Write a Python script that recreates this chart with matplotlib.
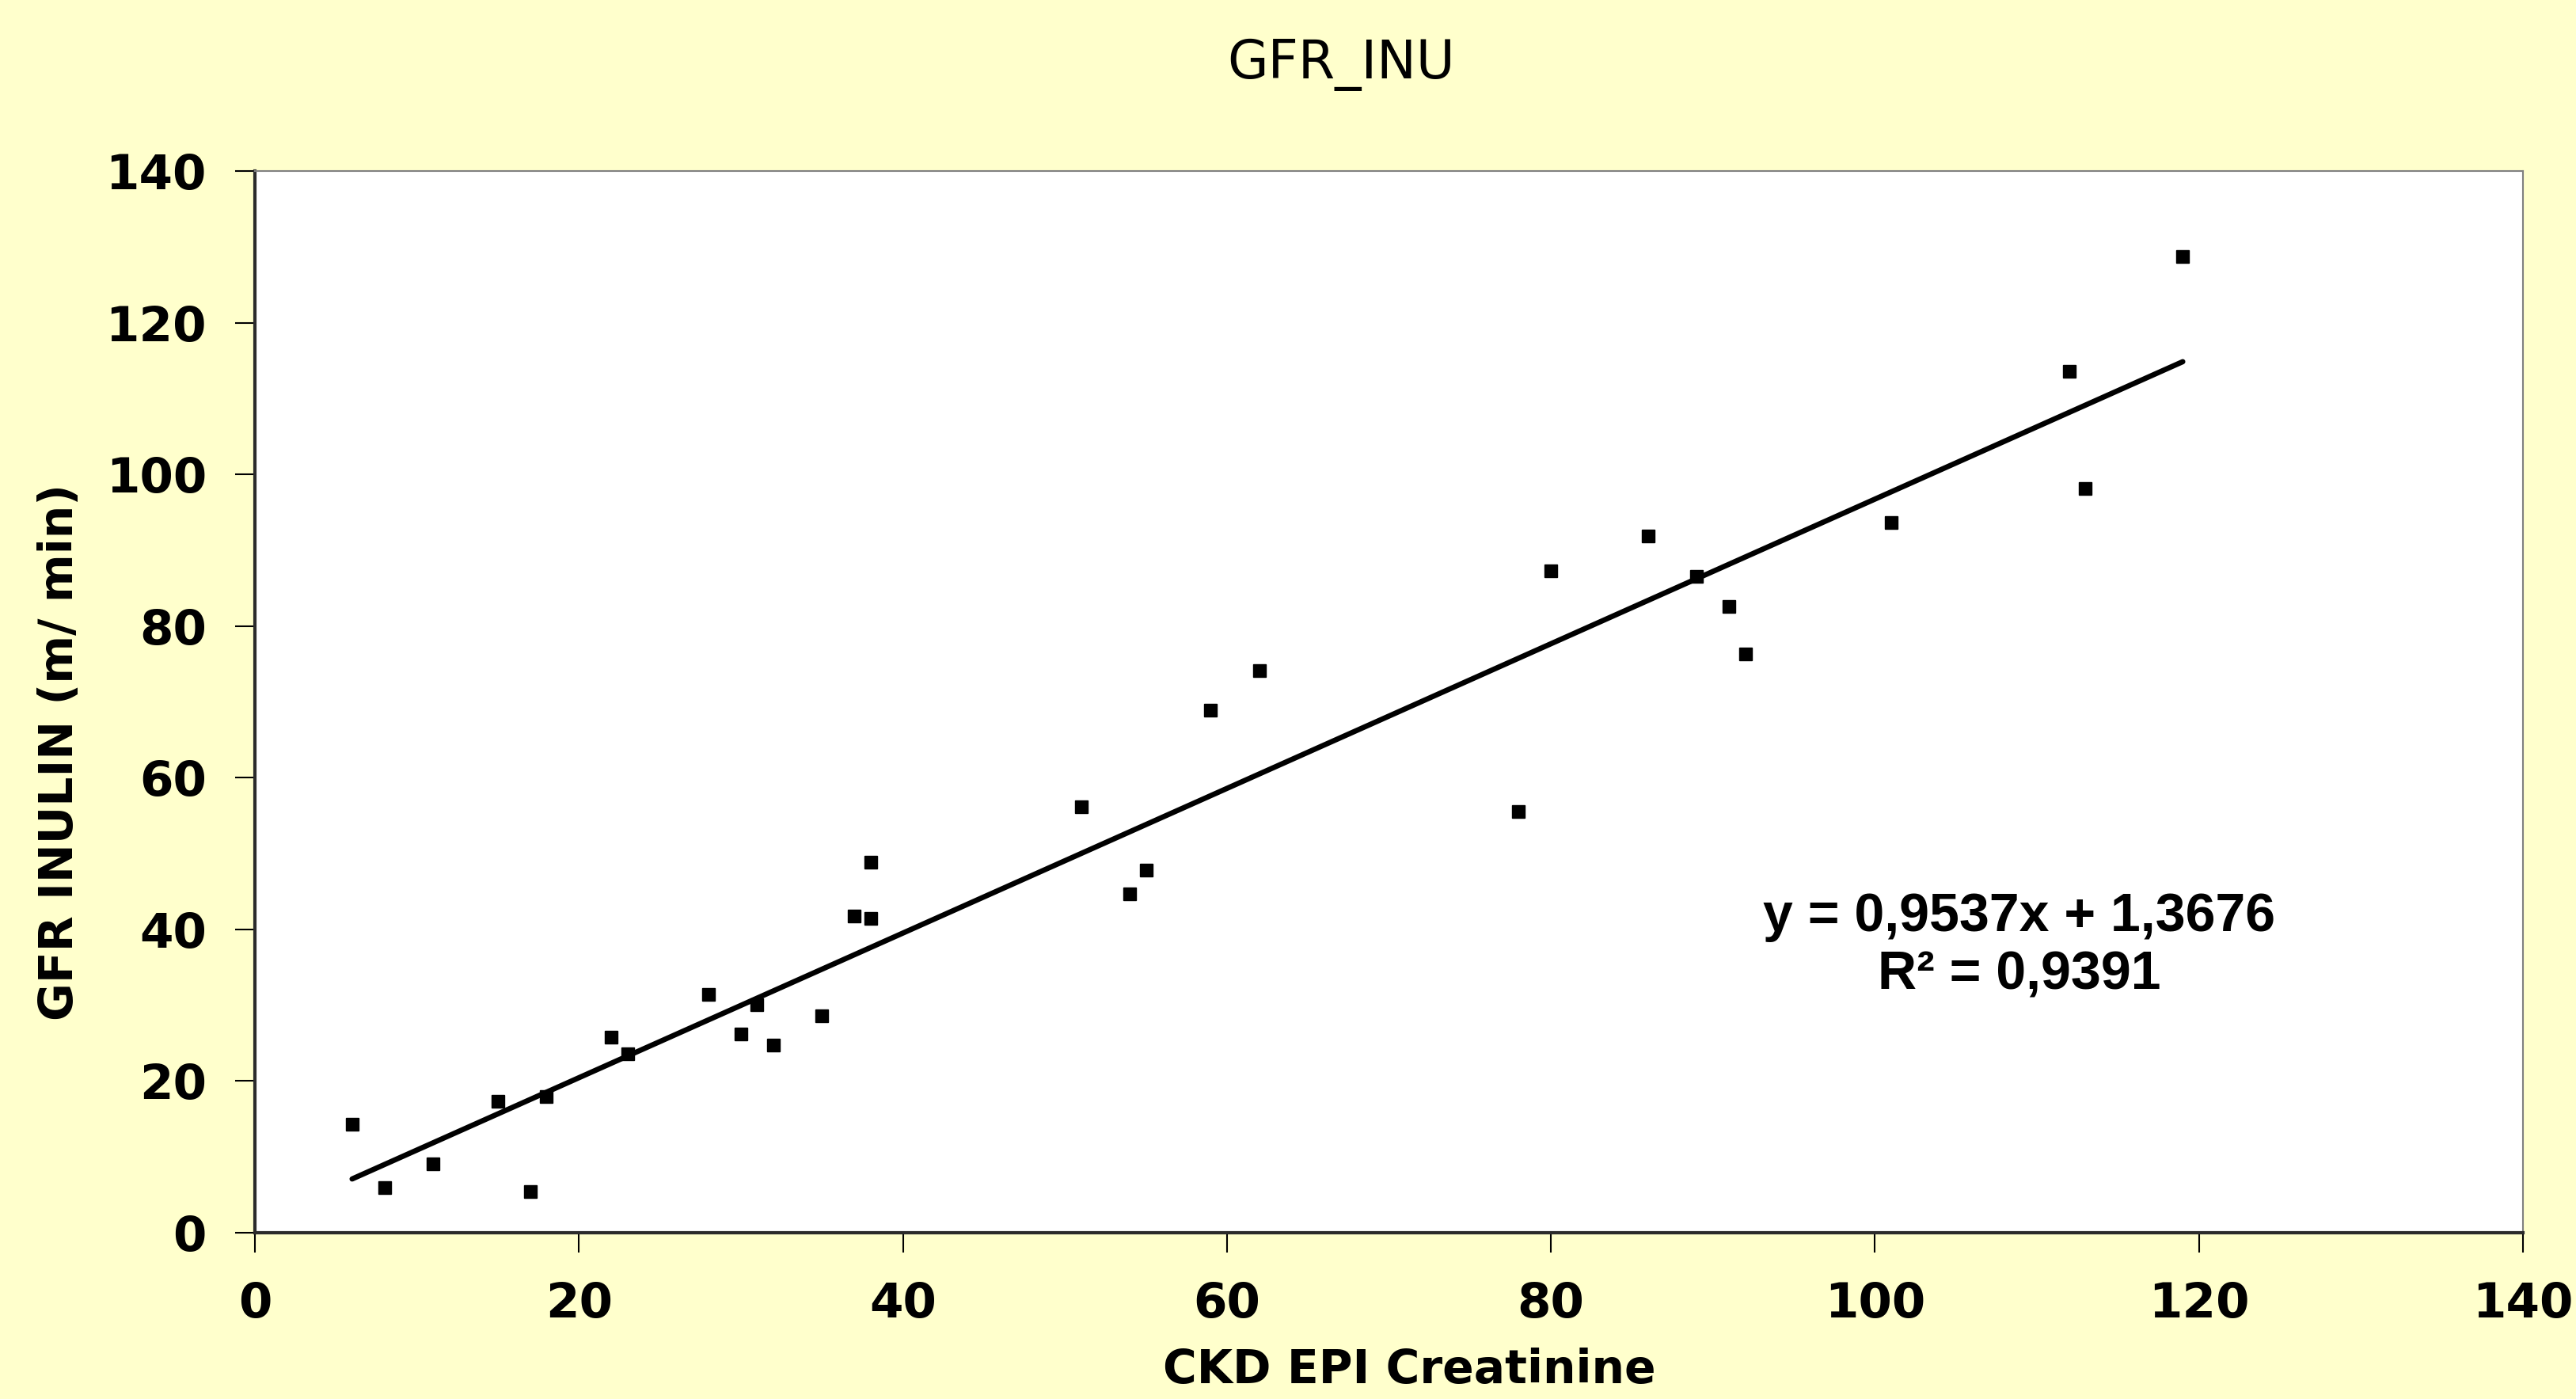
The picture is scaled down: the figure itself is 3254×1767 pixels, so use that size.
import numpy as np
import matplotlib

matplotlib.use("Agg")
import matplotlib.pyplot as plt

# CKD EPI creatinine vs inulin GFR
ckd_epi = [6, 8, 11, 15, 17, 18, 22, 23, 28, 30, 31, 32, 35, 37, 38, 38,
           51, 54, 55, 59, 62, 78, 80, 86, 89, 91, 92, 101, 112, 113, 119]
gfr_inulin = [14.3, 6.0, 9.1, 17.3, 5.4, 18.0, 25.8, 23.6, 31.4, 26.2, 30.1,
              24.7, 28.6, 41.8, 48.9, 41.4, 56.2, 44.7, 47.8, 68.9, 74.1,
              55.5, 87.3, 91.9, 86.5, 82.6, 76.3, 93.6, 113.6, 98.1, 128.7]

# linear trend as printed on the chart
slope = 0.9537
intercept = 1.3676
r_squared = 0.9391

x_ticks = [0, 20, 40, 60, 80, 100, 120, 140]
y_ticks = [0, 20, 40, 60, 80, 100, 120, 140]

bg = "#FFFFCC"

fig = plt.figure(figsize=(32.55, 17.67), dpi=100, facecolor=bg)
ax = fig.add_axes([322 / 3255, 1 - 1557 / 1767, 2865 / 3255, 1341 / 1767])
ax.set_facecolor("white")

ax.plot(ckd_epi, gfr_inulin, linestyle="none", marker="s",
        markersize=12, color="black")

x_fit = np.array([min(ckd_epi), max(ckd_epi)])
ax.plot(x_fit, slope * x_fit + intercept, color="black", linewidth=4.8,
        solid_capstyle="round")

ax.set_xlim(0, 140)
ax.set_ylim(0, 140)
ax.set_xticks(x_ticks)
ax.set_yticks(y_ticks)
ax.tick_params(axis="both", direction="out", length=18, width=1.5,
               labelsize=44, pad=26)
for lbl in ax.get_xticklabels() + ax.get_yticklabels():
    lbl.set_fontweight("bold")

for side in ["left", "bottom"]:
    ax.spines[side].set_linewidth(3)
    ax.spines[side].set_color("#2b2b2b")
for side in ["top", "right"]:
    ax.spines[side].set_linewidth(1.5)
    ax.spines[side].set_color("#808080")

ax.set_xlabel("CKD EPI Creatinine", fontsize=42, fontweight="bold")
ax.set_ylabel("GFR INULIN (m/ min)", fontsize=42, fontweight="bold")
ax.xaxis.set_label_coords(0.509, -0.108)
ax.yaxis.set_label_coords(-0.076, 0.453)

fig.text(1694 / 3255, 1 - 82 / 1767, "GFR_INU", fontsize=48,
         ha="center", va="center")

eq_text = f"y = {slope:.4f}x + {intercept:.4f}\nR² = {r_squared:.4f}".replace(".", ",")
ax.text(0.778, 0.270, eq_text, transform=ax.transAxes, ha="center",
        va="center", multialignment="center", fontsize=49,
        fontweight="bold", family="Liberation Sans", linespacing=1.2)

fig.savefig("out.png", dpi=100, facecolor=bg)
